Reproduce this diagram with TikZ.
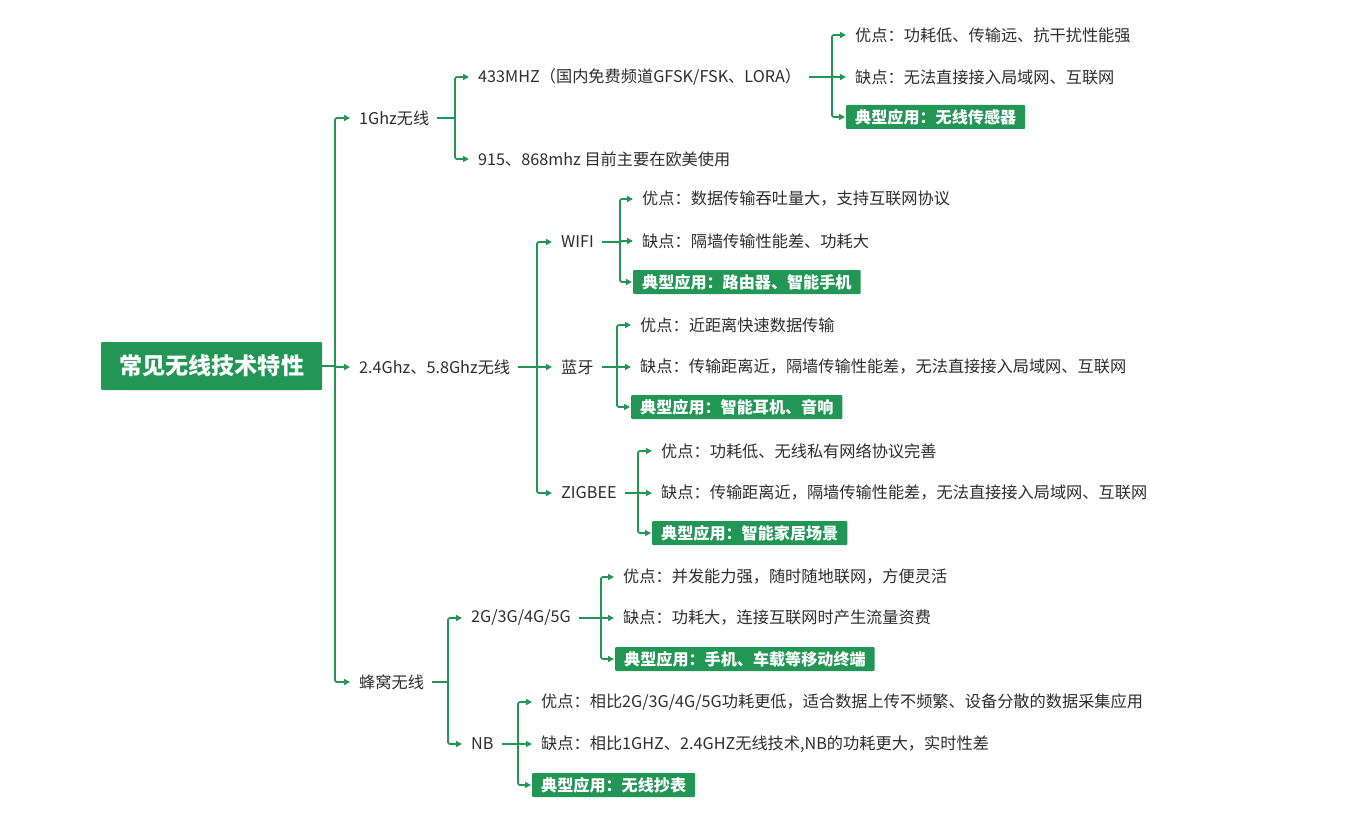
\documentclass[tikz,border=0pt]{standalone}
\usepackage{fontspec}
\setmainfont{Noto Sans CJK SC}
\usetikzlibrary{arrows.meta}
\definecolor{mg}{RGB}{34,150,84}
\definecolor{tc}{RGB}{45,45,45}
\begin{document}
\begin{tikzpicture}[x=1pt,y=-1pt,
 t/.style={anchor=west, inner xsep=8pt, inner ysep=2pt, text=tc, font=\fontsize{16.2}{18}\selectfont},
 app/.style={anchor=west, fill=mg, text=white, font=\fontsize{16.1}{18}\selectfont\bfseries, inner xsep=9pt, inner ysep=0pt, minimum height=24pt, rounded corners=1pt},
 root/.style={anchor=west, fill=mg, text=white, font=\fontsize{23.1}{26}\selectfont\bfseries, minimum width=221pt, minimum height=48pt, rounded corners=1pt},
 ln/.style={draw=mg, line width=1.8pt},
 ar/.style={ln, -{Triangle[length=6pt,width=6pt]}, shorten >=1pt, rounded corners=2pt},
]
\useasboundingbox (0,0) rectangle (1352,824);
% nodes
\node[root] (r) at (101,366) {常见无线技术特性};
\node[t] (a1) at (351,118) {1Ghz无线};
\node[t] (a2) at (351,367) {2.4Ghz、5.8Ghz无线};
\node[t] (a3) at (351,682) {蜂窝无线};
\node[t] (b1) at (470,77) {433MHZ（国内免费频道GFSK/FSK、LORA）};
\node[t] (b2) at (470,159) {915、868mhz 目前主要在欧美使用};
\node[t] (c1) at (847,35) {优点：功耗低、传输远、抗干扰性能强};
\node[t] (c2) at (847,77) {缺点：无法直接接入局域网、互联网};
\node[app] (c3) at (846,117) {典型应用：无线传感器};
\node[t] (w) at (553,242) {WIFI};
\node[t] (l) at (553,367) {蓝牙};
\node[t] (z) at (553,493) {ZIGBEE};
\node[t] (w1) at (634,199) {优点：数据传输吞吐量大，支持互联网协议};
\node[t] (w2) at (634,241) {缺点：隔墙传输性能差、功耗大};
\node[app] (w3) at (633,282) {典型应用：路由器、智能手机};
\node[t] (l1) at (632,325) {优点：近距离快速数据传输};
\node[t] (l2) at (632,367) {缺点：传输距离近，隔墙传输性能差，无法直接接入局域网、互联网};
\node[app] (l3) at (631,407) {典型应用：智能耳机、音响};
\node[t] (z1) at (653,451) {优点：功耗低、无线私有网络协议完善};
\node[t] (z2) at (653,493) {缺点：传输距离近，隔墙传输性能差，无法直接接入局域网、互联网};
\node[app] (z3) at (652,533) {典型应用：智能家居场景};
\node[t] (g) at (463,618) {2G/3G/4G/5G};
\node[t] (n) at (463,744) {NB};
\node[t] (g1) at (615,577) {优点：并发能力强，随时随地联网，方便灵活};
\node[t] (g2) at (615,618) {缺点：功耗大，连接互联网时产生流量资费};
\node[app] (g3) at (615,659) {典型应用：手机、车载等移动终端};
\node[t] (n1) at (533,702) {优点：相比2G/3G/4G/5G功耗更低，适合数据上传不频繁、设备分散的数据采集应用};
\node[t] (n2) at (533,744) {缺点：相比1GHZ、2.4GHZ无线技术,NB的功耗更大，实时性差};
\node[app] (n3) at (532,785) {典型应用：无线抄表};
% junctions (on the parent's centre line)
\coordinate (jr) at (r.east -| 335,0);
\coordinate (ja1) at (a1.east -| 455,0);
\coordinate (jb1) at (b1.east -| 832,0);
\coordinate (ja2) at (a2.east -| 537,0);
\coordinate (jw) at (w.east -| 620,0);
\coordinate (jl) at (l.east -| 617,0);
\coordinate (jz) at (z.east -| 638,0);
\coordinate (ja3) at (a3.east -| 448,0);
\coordinate (jg) at (g.east -| 601,0);
\coordinate (jn) at (n.east -| 518,0);
% connectors
\draw[ln] (r.east) -- (jr);
\foreach \c in {a1,a2,a3} \draw[ar] (jr) |- (\c.west);
\draw[ln] (a1.east) -- (ja1);
\foreach \c in {b1,b2} \draw[ar] (ja1) |- (\c.west);
\draw[ln] (b1.east) -- (jb1);
\foreach \c in {c1,c2,c3} \draw[ar] (jb1) |- (\c.west);
\draw[ln] (a2.east) -- (ja2);
\foreach \c in {w,l,z} \draw[ar] (ja2) |- (\c.west);
\draw[ln] (w.east) -- (jw);
\foreach \c in {w1,w2,w3} \draw[ar] (jw) |- (\c.west);
\draw[ln] (l.east) -- (jl);
\foreach \c in {l1,l2,l3} \draw[ar] (jl) |- (\c.west);
\draw[ln] (z.east) -- (jz);
\foreach \c in {z1,z2,z3} \draw[ar] (jz) |- (\c.west);
\draw[ln] (a3.east) -- (ja3);
\foreach \c in {g,n} \draw[ar] (ja3) |- (\c.west);
\draw[ln] (g.east) -- (jg);
\foreach \c in {g1,g2,g3} \draw[ar] (jg) |- (\c.west);
\draw[ln] (n.east) -- (jn);
\foreach \c in {n1,n2,n3} \draw[ar] (jn) |- (\c.west);
\end{tikzpicture}
\end{document}
